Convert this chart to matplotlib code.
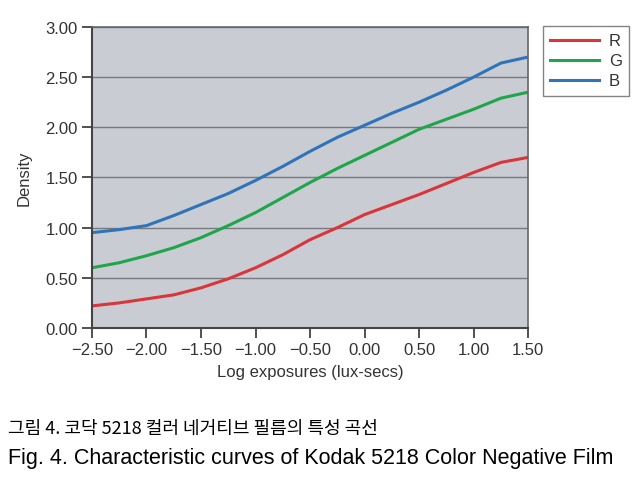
import matplotlib.pyplot as plt
import numpy as np

# log exposure values (x) and densities
log_exp = [-2.50, -2.25, -2.00, -1.75, -1.50, -1.25, -1.00, -0.75, -0.50, -0.25,
           0.00, 0.25, 0.50, 0.75, 1.00, 1.25, 1.50]
red = [0.22, 0.25, 0.29, 0.33, 0.40, 0.49, 0.60, 0.73, 0.88, 1.00,
       1.13, 1.23, 1.33, 1.44, 1.55, 1.65, 1.70]
green = [0.60, 0.65, 0.72, 0.80, 0.90, 1.02, 1.15, 1.30, 1.45, 1.59,
         1.72, 1.85, 1.98, 2.08, 2.18, 2.29, 2.35]
blue = [0.95, 0.98, 1.02, 1.12, 1.23, 1.34, 1.47, 1.61, 1.76, 1.90,
        2.02, 2.14, 2.25, 2.37, 2.50, 2.64, 2.70]

series = [('R', red, '#d9353b'), ('G', green, '#1fa64a'), ('B', blue, '#2f74b8')]

xticks = [-2.5, -2.0, -1.5, -1.0, -0.5, 0.0, 0.5, 1.0, 1.5]
yticks = [0.0, 0.5, 1.0, 1.5, 2.0, 2.5, 3.0]

caption_ko = '그림 4. 코닥 5218 컬러 네거티브 필름의 특성 곡선'
caption_en = 'Fig. 4. Characteristic curves of Kodak 5218 Color Negative Film'

plt.rcParams['font.family'] = ['Liberation Sans', 'DejaVu Sans']

fig = plt.figure(figsize=(6.38, 4.81), dpi=100)
ax = fig.add_axes([0.144, 0.316, 0.684, 0.626])
ax.set_facecolor('#c9ccd3')

for name, vals, col in series:
    ax.plot(log_exp, vals, color=col, lw=2.2, label=name)

ax.set_xlim(-2.5, 1.5)
ax.set_ylim(0, 3.0)
ax.set_xticks(xticks)
ax.set_xticklabels([f'{v:.2f}'.replace('-', '\u2212') for v in xticks])
ax.set_yticks(yticks)
ax.set_yticklabels([f'{v:.2f}' for v in yticks])
ax.tick_params(labelsize=12, colors='#333333', length=7, width=1.2, pad=3)
ax.grid(axis='y', color='#77797d', lw=1.0)
ax.set_axisbelow(True)
for s in ['left', 'bottom']:
    ax.spines[s].set_color('#444444')
    ax.spines[s].set_linewidth(1.5)
for s in ['top', 'right']:
    ax.spines[s].set_color('#666666')
    ax.spines[s].set_linewidth(1.2)

ax.set_xlabel('Log exposures (lux-secs)', fontsize=12, color='#333333', labelpad=5)
ax.set_ylabel('Density', fontsize=12, color='#333333', labelpad=10)

leg = fig.legend(loc='upper left', bbox_to_anchor=(0.851, 0.944), fontsize=12,
                 frameon=True, fancybox=False, edgecolor='#666666',
                 handlelength=2.9, handletextpad=0.6, borderpad=0.45,
                 labelspacing=0.3, borderaxespad=0)
for t in leg.get_texts():
    t.set_color('#333333')

fig.text(0.012, 0.108, caption_ko, fontsize=13, family=['Noto Sans CJK KR', 'DejaVu Sans'],
         va='center', color='black')
fig.text(0.012, 0.047, caption_en, fontsize=15.5, family=['Liberation Sans', 'DejaVu Sans'],
         va='center', color='black')

fig.savefig('out.png', dpi=100)
